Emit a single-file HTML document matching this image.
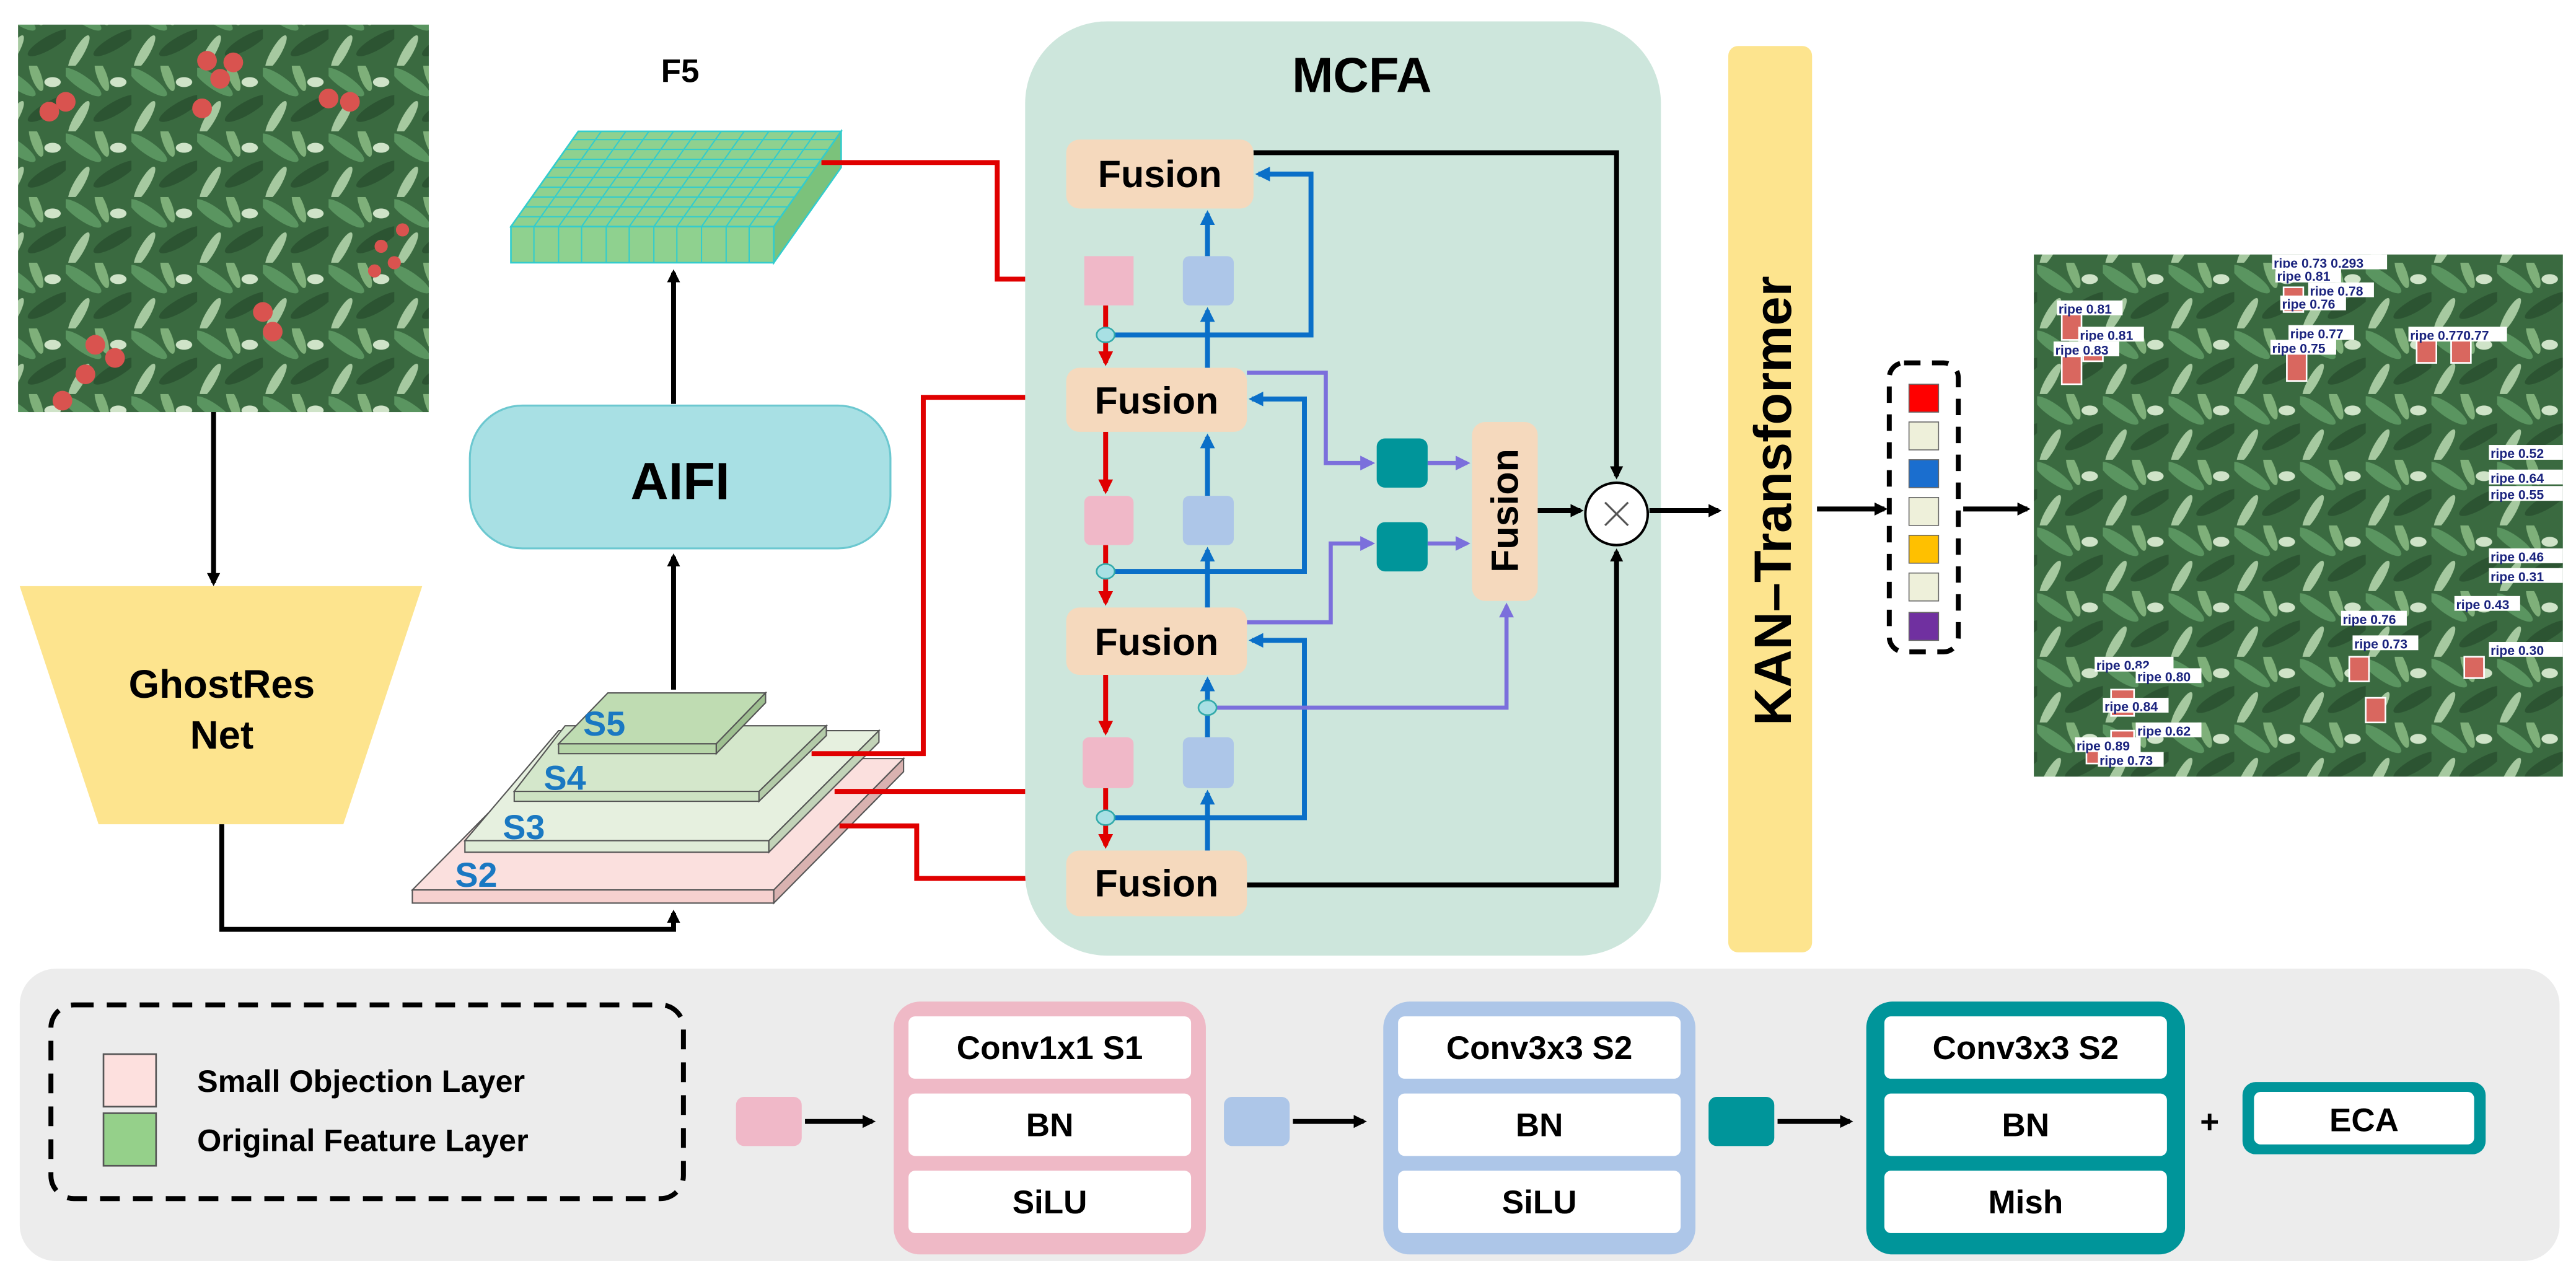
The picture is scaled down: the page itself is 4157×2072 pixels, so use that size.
<!DOCTYPE html>
<html><head><meta charset="utf-8"><style>
html,body{margin:0;padding:0;background:#fff;}
svg{display:block;}
text{font-family:"Liberation Sans",sans-serif;font-weight:bold;}
</style></head><body>
<svg width="4157" height="2072" viewBox="0 0 1568 782" preserveAspectRatio="none" xmlns="http://www.w3.org/2000/svg">
<defs>
<marker id="ak" markerWidth="8" markerHeight="8" refX="6" refY="4" orient="auto" markerUnits="userSpaceOnUse"><path d="M0,0 L8,4 L0,8 z" fill="#000"/></marker>
<marker id="ab" markerWidth="9" markerHeight="9" refX="7" refY="4.5" orient="auto" markerUnits="userSpaceOnUse"><path d="M0,0 L9,4.5 L0,9 z" fill="#0a6fc8"/></marker>
<marker id="ar" markerWidth="9" markerHeight="9" refX="7" refY="4.5" orient="auto" markerUnits="userSpaceOnUse"><path d="M0,0 L9,4.5 L0,9 z" fill="#e00000"/></marker>
<marker id="ap" markerWidth="9" markerHeight="9" refX="7" refY="4.5" orient="auto" markerUnits="userSpaceOnUse"><path d="M0,0 L9,4.5 L0,9 z" fill="#7b6fdc"/></marker>
<pattern id="leaf" width="40" height="40" patternUnits="userSpaceOnUse">
<rect width="40" height="40" fill="#3a6a40"/>
<ellipse cx="10" cy="10" rx="14" ry="4" transform="rotate(35 10 10)" fill="#5a9560"/>
<ellipse cx="30" cy="26" rx="15" ry="4" transform="rotate(-30 30 26)" fill="#2c5432"/>
<ellipse cx="22" cy="6" rx="10" ry="3" transform="rotate(70 22 6)" fill="#7fb07a"/>
<ellipse cx="8" cy="32" rx="12" ry="3" transform="rotate(-60 8 32)" fill="#a6c9a0"/>
<ellipse cx="32" cy="10" rx="5" ry="3" fill="#cfe3c8"/>
</pattern>
</defs>

<rect x="11" y="15" width="250" height="236" fill="url(#leaf)"/>
<g fill="#d9534f">
<circle cx="30" cy="68" r="6"/><circle cx="40" cy="62" r="6"/><circle cx="126" cy="37" r="6"/><circle cx="134" cy="48" r="6"/><circle cx="142" cy="38" r="6"/><circle cx="123" cy="66" r="6"/><circle cx="200" cy="60" r="6"/><circle cx="213" cy="62" r="6"/><circle cx="160" cy="190" r="6"/><circle cx="166" cy="202" r="6"/><circle cx="58" cy="210" r="6"/><circle cx="70" cy="218" r="6"/><circle cx="52" cy="228" r="6"/><circle cx="38" cy="244" r="6"/><circle cx="232" cy="150" r="4"/><circle cx="240" cy="160" r="4"/><circle cx="228" cy="165" r="4"/><circle cx="245" cy="140" r="4"/>
</g>
<line x1="130" y1="251" x2="130" y2="355" stroke="#000" stroke-width="3" marker-end="url(#ak)"/>

<polygon points="12,357 257,357 209,502 60,502" fill="#fde48e"/>
<text x="135" y="425" font-size="24" text-anchor="middle">GhostRes</text>
<text x="135" y="456" font-size="24" text-anchor="middle">Net</text>
<polyline points="135,502 135,566 410,566 410,556" fill="none" stroke="#000" stroke-width="3" marker-end="url(#ak)"/>

<polygon points="251,542 330,462 550,462 471,542" fill="#fbe0de" stroke="#555" stroke-width="0.8"/>
<polygon points="251,542 471,542 471,550 251,550" fill="#f7d1cf" stroke="#555" stroke-width="0.8"/>
<polygon points="471,542 550,462 550,470 471,550" fill="#d9b2b0" stroke="#555" stroke-width="0.8"/>
<polygon points="283,512 340,445 535,445 468,512" fill="#e6f0df" stroke="#555" stroke-width="0.8"/>
<polygon points="283,512 468,512 468,519 283,519" fill="#dfecd7" stroke="#555" stroke-width="0.8"/>
<polygon points="468,512 535,445 535,452 468,519" fill="#c2d3b8" stroke="#555" stroke-width="0.8"/>
<polygon points="313,482 344,442 503,442 462,482" fill="#d4e7cb" stroke="#555" stroke-width="0.8"/>
<polygon points="313,482 462,482 462,488 313,488" fill="#cde2c3" stroke="#555" stroke-width="0.8"/>
<polygon points="462,482 503,442 503,448 462,488" fill="#b3cba8" stroke="#555" stroke-width="0.8"/>
<polygon points="340,453 370,422 466,422 436,453" fill="#bfdcb2" stroke="#555" stroke-width="0.8"/>
<polygon points="340,453 436,453 436,459 340,459" fill="#b6d5a8" stroke="#555" stroke-width="0.8"/>
<polygon points="436,453 466,422 466,428 436,459" fill="#9ebf90" stroke="#555" stroke-width="0.8"/>
<g fill="#1a78c2" font-size="21">
<text x="355" y="448">S5</text><text x="331" y="481">S4</text><text x="306" y="511">S3</text><text x="277" y="540">S2</text>
</g>
<line x1="410" y1="420" x2="410" y2="339" stroke="#000" stroke-width="3" marker-end="url(#ak)"/>

<rect x="286" y="247" width="256" height="87" rx="32" fill="#a8e0e4" stroke="#6cc8d0" stroke-width="1.2"/>
<text x="414" y="304" font-size="32" text-anchor="middle">AIFI</text>
<line x1="410" y1="246" x2="410" y2="166" stroke="#000" stroke-width="3" marker-end="url(#ak)"/>

<text x="414" y="50" font-size="20" text-anchor="middle">F5</text>
<polygon points="311,138 352,80 512,80 471,138" fill="#8fd18f" stroke="#3cc" stroke-width="1"/>
<polygon points="311,138 471,138 471,160 311,160" fill="#8fd18f" stroke="#3cc" stroke-width="1"/>
<polygon points="471,138 512,80 512,102 471,160" fill="#7bc27b" stroke="#3cc" stroke-width="1"/>
<g stroke="#3cc" stroke-width="0.8">
<line x1="325" y1="138" x2="325" y2="160"/><line x1="340" y1="138" x2="340" y2="160"/><line x1="354" y1="138" x2="354" y2="160"/><line x1="369" y1="138" x2="369" y2="160"/><line x1="383" y1="138" x2="383" y2="160"/><line x1="398" y1="138" x2="398" y2="160"/><line x1="412" y1="138" x2="412" y2="160"/><line x1="427" y1="138" x2="427" y2="160"/><line x1="442" y1="138" x2="442" y2="160"/><line x1="456" y1="138" x2="456" y2="160"/>
<line x1="325" y1="138" x2="366" y2="80"/><line x1="340" y1="138" x2="381" y2="80"/><line x1="354" y1="138" x2="395" y2="80"/><line x1="369" y1="138" x2="410" y2="80"/><line x1="383" y1="138" x2="424" y2="80"/><line x1="398" y1="138" x2="439" y2="80"/><line x1="412" y1="138" x2="453" y2="80"/><line x1="427" y1="138" x2="468" y2="80"/><line x1="442" y1="138" x2="483" y2="80"/><line x1="456" y1="138" x2="497" y2="80"/>
<line x1="315" y1="132" x2="475" y2="132"/><line x1="319" y1="126" x2="479" y2="126"/><line x1="324" y1="120" x2="484" y2="120"/><line x1="328" y1="114" x2="488" y2="114"/><line x1="332" y1="108" x2="492" y2="108"/><line x1="336" y1="102" x2="496" y2="102"/><line x1="340" y1="97" x2="500" y2="97"/><line x1="344" y1="91" x2="504" y2="91"/><line x1="348" y1="85" x2="508" y2="85"/>
</g>

<g fill="none" stroke="#e00000" stroke-width="3">
<polyline points="500,99 607,99 607,170 626,170"/>
<polyline points="494,459 562,459 562,242 626,242"/>
<polyline points="508,482 626,482"/>
<polyline points="511,503 558,503 558,535 626,535"/>
</g>

<rect x="624" y="13" width="387" height="569" rx="50" fill="#cde6dc"/>
<text x="829" y="56" font-size="30" text-anchor="middle">MCFA</text>

<polyline points="763,93 984,93 984,290" fill="none" stroke="#000" stroke-width="3" marker-end="url(#ak)"/>
<polyline points="759,539 984,539 984,336" fill="none" stroke="#000" stroke-width="3" marker-end="url(#ak)"/>
<line x1="936" y1="311" x2="962" y2="311" stroke="#000" stroke-width="3" marker-end="url(#ak)"/>
<line x1="1004" y1="311" x2="1046" y2="311" stroke="#000" stroke-width="3" marker-end="url(#ak)"/>
<circle cx="984" cy="313" r="19" fill="#fff" stroke="#000" stroke-width="1.5"/>
<path d="M977,306 L991,320 M991,306 L977,320" stroke="#555" stroke-width="1.2"/>

<g fill="none" stroke="#0a6fc8" stroke-width="3">
<polyline points="673,204 798,204 798,106 766,106" marker-end="url(#ab)"/>
<polyline points="673,348 794,348 794,243 762,243" marker-end="url(#ab)"/>
<polyline points="673,498 794,498 794,390 762,390" marker-end="url(#ab)"/>
<line x1="735" y1="224" x2="735" y2="189" marker-end="url(#ab)"/>
<line x1="735" y1="156" x2="735" y2="130" marker-end="url(#ab)"/>
<line x1="735" y1="370" x2="735" y2="335" marker-end="url(#ab)"/>
<line x1="735" y1="302" x2="735" y2="266" marker-end="url(#ab)"/>
<line x1="735" y1="518" x2="735" y2="483" marker-end="url(#ab)"/>
<line x1="735" y1="449" x2="735" y2="414" marker-end="url(#ab)"/>
</g>
<g stroke="#e00000" stroke-width="3">
<line x1="673" y1="186" x2="673" y2="221" marker-end="url(#ar)"/>
<line x1="673" y1="263" x2="673" y2="299" marker-end="url(#ar)"/>
<line x1="673" y1="332" x2="673" y2="367" marker-end="url(#ar)"/>
<line x1="673" y1="411" x2="673" y2="446" marker-end="url(#ar)"/>
<line x1="673" y1="480" x2="673" y2="515" marker-end="url(#ar)"/>
</g>
<g fill="none" stroke="#7b6fdc" stroke-width="2.5">
<polyline points="759,227 807,227 807,282 835,282" marker-end="url(#ap)"/>
<polyline points="759,379 810,379 810,331 835,331" marker-end="url(#ap)"/>
<line x1="869" y1="282" x2="893" y2="282" marker-end="url(#ap)"/>
<line x1="869" y1="331" x2="893" y2="331" marker-end="url(#ap)"/>
<polyline points="735,431 917,431 917,369" marker-end="url(#ap)"/>
</g>
<g fill="#a8e0e4" stroke="#3aa" stroke-width="1">
<ellipse cx="673" cy="204" rx="5.5" ry="4.5"/><ellipse cx="673" cy="348" rx="5.5" ry="4.5"/><ellipse cx="673" cy="498" rx="5.5" ry="4.5"/><ellipse cx="735" cy="431" rx="5.5" ry="4.5"/>
</g>

<g fill="#f5d9bd">
<rect x="649" y="85" width="114" height="42" rx="8"/>
<rect x="649" y="224" width="110" height="39" rx="8"/>
<rect x="649" y="370" width="110" height="41" rx="8"/>
<rect x="649" y="518" width="110" height="40" rx="8"/>
<rect x="896" y="257" width="40" height="109" rx="8"/>
</g>
<g font-size="23" text-anchor="middle">
<text x="706" y="114">Fusion</text><text x="704" y="252">Fusion</text><text x="704" y="399">Fusion</text><text x="704" y="546">Fusion</text>
<text x="0" y="0" transform="translate(924,311) rotate(-90)">Fusion</text>
</g>
<g fill="#f0b8c8"><rect x="660" y="156" width="30" height="30"/><rect x="660" y="302" width="30" height="30" rx="4"/><rect x="659" y="449" width="31" height="31" rx="4"/></g>
<g fill="#adc6e8"><rect x="720" y="156" width="31" height="30" rx="4"/><rect x="720" y="302" width="31" height="30" rx="4"/><rect x="720" y="449" width="31" height="31" rx="4"/></g>
<g fill="#00959a"><rect x="838" y="267" width="31" height="30" rx="5"/><rect x="838" y="318" width="31" height="30" rx="5"/></g>

<rect x="1052" y="28" width="51" height="552" rx="6" fill="#fde48e"/>
<text x="0" y="0" font-size="32" text-anchor="middle" transform="translate(1090,305) rotate(-90)">KAN–Transformer</text>
<line x1="1106" y1="310" x2="1147" y2="310" stroke="#000" stroke-width="3" marker-end="url(#ak)"/>
<rect x="1150" y="221" width="42" height="176" rx="9" fill="none" stroke="#000" stroke-width="3" stroke-dasharray="10,7"/>
<g stroke="#666" stroke-width="0.6">
<rect x="1162" y="234" width="18" height="17" fill="#f00"/>
<rect x="1162" y="257" width="18" height="17" fill="#eef0da"/>
<rect x="1162" y="280" width="18" height="17" fill="#1a6ecf"/>
<rect x="1162" y="303" width="18" height="17" fill="#eef0da"/>
<rect x="1162" y="326" width="18" height="17" fill="#ffc000"/>
<rect x="1162" y="349" width="18" height="17" fill="#eef0da"/>
<rect x="1162" y="373" width="18" height="17" fill="#7030a0"/>
</g>
<line x1="1195" y1="310" x2="1234" y2="310" stroke="#000" stroke-width="3" marker-end="url(#ak)"/>

<rect x="1238" y="155" width="322" height="318" fill="url(#leaf)"/>
<g fill="#d9675f" stroke="#fff" stroke-width="1">
<rect x="1255" y="190" width="12" height="17"/><rect x="1255" y="217" width="12" height="17"/><rect x="1268" y="205" width="12" height="15"/><rect x="1390" y="175" width="12" height="15"/><rect x="1392" y="215" width="12" height="17"/><rect x="1471" y="205" width="12" height="16"/><rect x="1492" y="205" width="12" height="16"/><rect x="1285" y="420" width="14" height="16"/><rect x="1285" y="445" width="14" height="20"/><rect x="1430" y="400" width="12" height="15"/><rect x="1440" y="425" width="12" height="15"/><rect x="1500" y="400" width="12" height="13"/><rect x="1270" y="450" width="12" height="15"/>
</g>
<g font-size="8" fill="#1a237e">
<rect x="1252" y="183" width="40" height="9" fill="#fff"/><text x="1253" y="191" font-weight="normal">ripe 0.81</text>
<rect x="1265" y="199" width="40" height="9" fill="#fff"/><text x="1266" y="207" font-weight="normal">ripe 0.81</text>
<rect x="1250" y="208" width="40" height="9" fill="#fff"/><text x="1251" y="216" font-weight="normal">ripe 0.83</text>
<rect x="1383" y="155" width="70" height="9" fill="#fff"/><text x="1384" y="163" font-weight="normal">ripe 0.73 0.293</text>
<rect x="1385" y="163" width="40" height="9" fill="#fff"/><text x="1386" y="171" font-weight="normal">ripe 0.81</text>
<rect x="1405" y="172" width="40" height="9" fill="#fff"/><text x="1406" y="180" font-weight="normal">ripe 0.78</text>
<rect x="1388" y="180" width="40" height="9" fill="#fff"/><text x="1389" y="188" font-weight="normal">ripe 0.76</text>
<rect x="1393" y="198" width="40" height="9" fill="#fff"/><text x="1394" y="206" font-weight="normal">ripe 0.77</text>
<rect x="1382" y="207" width="40" height="9" fill="#fff"/><text x="1383" y="215" font-weight="normal">ripe 0.75</text>
<rect x="1466" y="199" width="60" height="9" fill="#fff"/><text x="1467" y="207" font-weight="normal">ripe 0.770.77</text>
<rect x="1515" y="271" width="45" height="9" fill="#fff"/><text x="1516" y="279" font-weight="normal">ripe 0.52</text>
<rect x="1515" y="286" width="45" height="9" fill="#fff"/><text x="1516" y="294" font-weight="normal">ripe 0.64</text>
<rect x="1515" y="296" width="45" height="9" fill="#fff"/><text x="1516" y="304" font-weight="normal">ripe 0.55</text>
<rect x="1515" y="334" width="45" height="9" fill="#fff"/><text x="1516" y="342" font-weight="normal">ripe 0.46</text>
<rect x="1515" y="346" width="45" height="9" fill="#fff"/><text x="1516" y="354" font-weight="normal">ripe 0.31</text>
<rect x="1494" y="363" width="40" height="9" fill="#fff"/><text x="1495" y="371" font-weight="normal">ripe 0.43</text>
<rect x="1425" y="372" width="40" height="9" fill="#fff"/><text x="1426" y="380" font-weight="normal">ripe 0.76</text>
<rect x="1432" y="387" width="40" height="9" fill="#fff"/><text x="1433" y="395" font-weight="normal">ripe 0.73</text>
<rect x="1515" y="391" width="45" height="9" fill="#fff"/><text x="1516" y="399" font-weight="normal">ripe 0.30</text>
<rect x="1275" y="400" width="48" height="9" fill="#fff"/><text x="1276" y="408" font-weight="normal">ripe 0.82</text>
<rect x="1300" y="407" width="40" height="9" fill="#fff"/><text x="1301" y="415" font-weight="normal">ripe 0.80</text>
<rect x="1280" y="425" width="40" height="9" fill="#fff"/><text x="1281" y="433" font-weight="normal">ripe 0.84</text>
<rect x="1300" y="440" width="40" height="9" fill="#fff"/><text x="1301" y="448" font-weight="normal">ripe 0.62</text>
<rect x="1263" y="449" width="40" height="9" fill="#fff"/><text x="1264" y="457" font-weight="normal">ripe 0.89</text>
<rect x="1277" y="458" width="40" height="9" fill="#fff"/><text x="1278" y="466" font-weight="normal">ripe 0.73</text>
</g>

<rect x="12" y="590" width="1546" height="178" rx="22" fill="#ececec"/>
<rect x="31" y="612" width="385" height="118" rx="14" fill="none" stroke="#000" stroke-width="3" stroke-dasharray="12,8"/>
<rect x="63" y="642" width="32" height="32" fill="#fde0de" stroke="#555" stroke-width="1"/>
<rect x="63" y="678" width="32" height="32" fill="#95d08a" stroke="#555" stroke-width="1"/>
<text x="120" y="665" font-size="19">Small Objection Layer</text>
<text x="120" y="701" font-size="19">Original Feature Layer</text>

<rect x="448" y="668" width="40" height="30" rx="5" fill="#f0b8c8"/>
<line x1="490" y1="683" x2="531" y2="683" stroke="#000" stroke-width="3" marker-end="url(#ak)"/>
<rect x="544" y="610" width="190" height="154" rx="16" fill="#efb9c6"/>
<rect x="745" y="668" width="40" height="30" rx="5" fill="#adc6e8"/>
<line x1="787" y1="683" x2="830" y2="683" stroke="#000" stroke-width="3" marker-end="url(#ak)"/>
<rect x="842" y="610" width="190" height="154" rx="16" fill="#adc6e8"/>
<rect x="1040" y="668" width="40" height="30" rx="5" fill="#00959a"/>
<line x1="1082" y1="683" x2="1126" y2="683" stroke="#000" stroke-width="3" marker-end="url(#ak)"/>
<rect x="1136" y="610" width="194" height="154" rx="16" fill="#00959a"/>
<g fill="#fff">
<rect x="553" y="619" width="172" height="38" rx="4"/><rect x="553" y="666" width="172" height="38" rx="4"/><rect x="553" y="713" width="172" height="38" rx="4"/>
<rect x="851" y="619" width="172" height="38" rx="4"/><rect x="851" y="666" width="172" height="38" rx="4"/><rect x="851" y="713" width="172" height="38" rx="4"/>
<rect x="1147" y="619" width="172" height="38" rx="4"/><rect x="1147" y="666" width="172" height="38" rx="4"/><rect x="1147" y="713" width="172" height="38" rx="4"/>
</g>
<g font-size="20" text-anchor="middle">
<text x="639" y="645">Conv1x1 S1</text><text x="639" y="692">BN</text><text x="639" y="739">SiLU</text>
<text x="937" y="645">Conv3x3 S2</text><text x="937" y="692">BN</text><text x="937" y="739">SiLU</text>
<text x="1233" y="645">Conv3x3 S2</text><text x="1233" y="692">BN</text><text x="1233" y="739">Mish</text>
<text x="1345" y="690">+</text>
</g>
<rect x="1365" y="659" width="148" height="44" rx="8" fill="#00959a"/>
<rect x="1372" y="665" width="134" height="32" rx="4" fill="#fff"/>
<text x="1439" y="689" font-size="20" text-anchor="middle">ECA</text>
</svg>
</body></html>
